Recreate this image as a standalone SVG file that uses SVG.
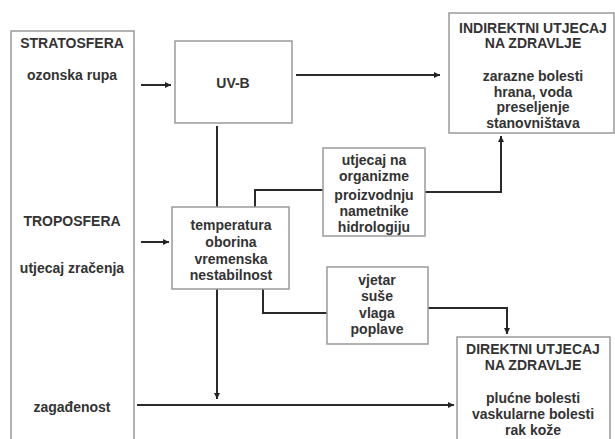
<svg xmlns="http://www.w3.org/2000/svg" width="615" height="439" viewBox="0 0 615 439">
<defs>
<style>
.box{fill:#fff;stroke:#9a9a9a;stroke-width:1.5}
.t{font-family:"Liberation Sans",Arial,sans-serif;font-weight:bold;font-size:14px;fill:#333;text-anchor:middle}
.c{fill:none;stroke:#2a2a2a;stroke-width:2}
</style>
<marker id="ah" viewBox="0 0 6 6" refX="6" refY="3" markerWidth="6" markerHeight="6" markerUnits="userSpaceOnUse" orient="auto">
<path d="M0,0 L6,3 L0,6 Z" fill="#222"/>
</marker>
</defs>
<rect width="615" height="439" fill="#fff"/>
<g id="connectors">
<path class="c" d="M141,85 H171" marker-end="url(#ah)"/>
<path class="c" d="M296,75 H440" marker-end="url(#ah)"/>
<path class="c" d="M217,126 V207"/>
<path class="c" d="M255,207 V190 H323"/>
<path class="c" d="M425,192 H501 V136" marker-end="url(#ah)"/>
<path class="c" d="M141,242 H169" marker-end="url(#ah)"/>
<path class="c" d="M217,289 V399" marker-end="url(#ah)"/>
<path class="c" d="M263,289 V313 H327"/>
<path class="c" d="M428,308 H507 V334" marker-end="url(#ah)"/>
<path class="c" d="M137,405 H454" marker-end="url(#ah)"/>
</g>
<g id="atmosfera">
<rect class="box" x="11" y="31" width="123" height="420"/>
<text class="t" x="72" y="48">STRATOSFERA</text>
<text class="t" x="72" y="80">ozonska rupa</text>
<text class="t" x="72" y="226">TROPOSFERA</text>
<text class="t" x="72" y="273">utjecaj zračenja</text>
<text class="t" x="72" y="412">zagađenost</text>
</g>
<g id="uvb">
<rect class="box" x="175" y="41" width="117" height="82"/>
<text class="t" x="233" y="88">UV-B</text>
</g>
<g id="indirektni">
<rect class="box" x="449" y="13" width="165" height="120"/>
<text class="t" x="533" y="33">INDIREKTNI UTJECAJ</text>
<text class="t" x="533" y="48">NA ZDRAVLJE</text>
<text class="t" x="533" y="81">zarazne bolesti</text>
<text class="t" x="533" y="97">hrana, voda</text>
<text class="t" x="533" y="112">preseljenje</text>
<text class="t" x="533" y="128">stanovništava</text>
</g>
<g id="utjecaj">
<rect class="box" x="323" y="148" width="102" height="88"/>
<text class="t" x="374" y="165">utjecaj na</text>
<text class="t" x="374" y="181">organizme</text>
<text class="t" x="374" y="200">proizvodnju</text>
<text class="t" x="374" y="216">nametnike</text>
<text class="t" x="374" y="232">hidrologiju</text>
</g>
<g id="temperatura">
<rect class="box" x="172" y="207" width="117" height="82"/>
<text class="t" x="231" y="230">temperatura</text>
<text class="t" x="231" y="247">oborina</text>
<text class="t" x="231" y="264">vremenska</text>
<text class="t" x="231" y="280">nestabilnost</text>
</g>
<g id="vjetar">
<rect class="box" x="327" y="267" width="101" height="77"/>
<text class="t" x="377" y="285">vjetar</text>
<text class="t" x="377" y="301">suše</text>
<text class="t" x="377" y="318">vlaga</text>
<text class="t" x="377" y="334">poplave</text>
</g>
<g id="direktni">
<rect class="box" x="457" y="337" width="153" height="120"/>
<text class="t" x="533" y="354">DIREKTNI UTJECAJ</text>
<text class="t" x="533" y="370">NA ZDRAVLJE</text>
<text class="t" x="533" y="403">plućne bolesti</text>
<text class="t" x="533" y="419">vaskularne bolesti</text>
<text class="t" x="533" y="435">rak kože</text>
</g>
</svg>
